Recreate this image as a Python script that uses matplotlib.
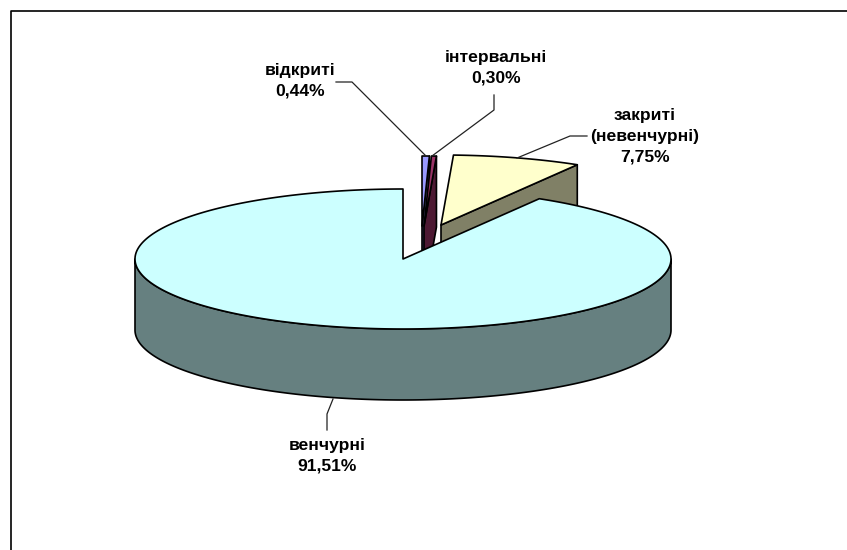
import numpy as np
import matplotlib
matplotlib.use('Agg')
import matplotlib.pyplot as plt
from matplotlib.patches import Polygon

plt.rcParams['font.family'] = ['Liberation Sans', 'DejaVu Sans']

# Shares in percent, clockwise from 12 o'clock
categories = ['відкриті', 'інтервальні', 'закриті\n(невенчурні)', 'венчурні']
values = [0.44, 0.30, 7.75, 91.51]
value_labels = ['0,44%', '0,30%', '7,75%', '91,51%']

top_colors = ['#9999FF', '#993366', '#FFFFCC', '#CCFFFF']
side_colors = ['#4D4D80', '#4D1933', '#808066', '#668080']

# How far each slice is pulled out of the pie, in pixels
offsets = [(19, -33), (21, -33), (38, -34), (0, 0)]

# Pie geometry in image pixels
cx, cy = 403, 259
rx, ry = 268, 70
depth = 71

fig = plt.figure(figsize=(8.47, 5.50), dpi=100)
ax = fig.add_axes([0, 0, 1, 1])
ax.set_xlim(0, 847)
ax.set_ylim(550, 0)
ax.axis('off')


def rim(a0, a1, dx, dy):
    # a0, a1 are angles clockwise from the top, in degrees
    t = np.radians(np.linspace(a0, a1, max(int(abs(a1 - a0)) * 2, 2)))
    return np.column_stack([cx + dx + rx * np.sin(t), cy + dy - ry * np.cos(t)])


def shape(pts, color, z):
    ax.add_patch(Polygon(pts, closed=True, facecolor=color, edgecolor='black',
                         linewidth=1.2, joinstyle='round', zorder=z))


edges = np.concatenate([[0], np.cumsum(values)]) * 3.6

# outer frame: only the top and left sides show in the original
ax.plot([10.5, 10.5, 847], [550, 10.5, 10.5], color='black', lw=1.2, zorder=1)

# exploded slices behind the big one: cut face first, then top
for i in range(3):
    dx, dy = offsets[i]
    apex = np.array([cx + dx, cy + dy])
    end = rim(edges[i + 1], edges[i + 1], dx, dy)[0]
    shape([apex, end, end + [0, depth], apex + [0, depth]], side_colors[i], 2 + i)
    shape(np.vstack([[apex], rim(edges[i], edges[i + 1], dx, dy)]), top_colors[i], 2 + i)

# big slice: front wall from the right extreme to the left extreme, then top
a0, a1 = edges[3], edges[4]
front = rim(90, 270, 0, 0)
shape(np.vstack([front, front[::-1] + [0, depth]]), side_colors[3], 10)
shape(np.vstack([[[cx, cy]], rim(a0, a1, 0, 0)]), top_colors[3], 11)

# leader lines
leaders = [
    ([336, 352, 426], [82, 82, 156]),
    ([494, 494, 432], [95, 110, 156]),
    ([587, 570, 517], [136, 136, 158]),
    ([327, 327, 333], [430, 414, 399]),
]
for xs, ys in leaders:
    ax.plot(xs, ys, color='#222222', lw=0.9, zorder=12)

# data labels
label_pos = [(300, 81), (496, 67.5), (645, 136), (327, 456)]
for name, val, (x, y) in zip(categories, value_labels, label_pos):
    ax.text(x, y, name + '\n' + val, ha='center', va='center', fontsize=12.6,
            fontweight='bold', linespacing=1.47, color='black', zorder=13)

fig.savefig('out.png', dpi=100)
